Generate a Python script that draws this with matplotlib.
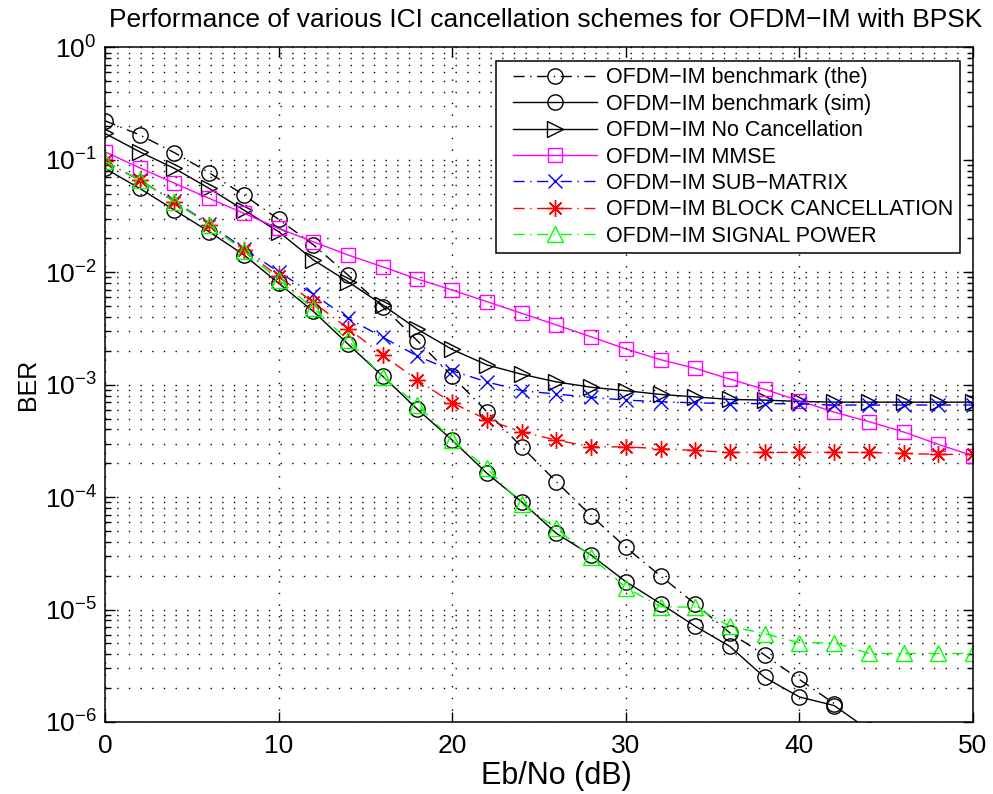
import matplotlib
matplotlib.use("Agg")
import matplotlib.pyplot as plt
from matplotlib.lines import Line2D
from matplotlib.legend_handler import HandlerLine2D
import numpy as np

plt.rcParams['font.family'] = ['Liberation Sans', 'DejaVu Sans']
plt.rcParams['mathtext.fontset'] = 'custom'
plt.rcParams['mathtext.rm'] = 'Liberation Sans'
plt.rcParams['mathtext.it'] = 'Liberation Sans:italic'

# Eb/No axis (dB), one point every 2 dB
ebno = np.arange(0, 51, 2)

# BER curves
the_ber = [0.223, 0.167, 0.116, 0.0769, 0.0487, 0.0296, 0.0176, 0.00946, 0.00494,
           0.00246, 0.00119, 0.000575, 0.000281, 0.000137, 6.84e-5, 3.58e-5,
           1.99e-5, 1.12e-5, 6.2e-6, 3.94e-6, 2.39e-6, 1.46e-6]
sim_ber = [0.084, 0.0558, 0.0358, 0.023, 0.0143, 0.0080, 0.0045, 0.0023, 0.00119,
           0.000604, 0.000322, 0.000163, 9.1e-5, 4.76e-5, 3.05e-5, 1.77e-5,
           1.13e-5, 7.1e-6, 4.7e-6, 2.49e-6, 1.67e-6, 1.40e-6, 8.5e-7]
nocancel_ber = [0.172, 0.118, 0.084, 0.0558, 0.0358, 0.023, 0.0129, 0.00825, 0.00512,
                0.00311, 0.00206, 0.0015, 0.00124, 0.00106, 0.00095, 0.000885,
                0.00082, 0.00078, 0.00074, 0.00073, 0.00071, 0.0007, 0.0007,
                0.0007, 0.0007, 0.0007]
mmse_ber = [0.118, 0.085, 0.062, 0.0455, 0.0335, 0.0246, 0.0187, 0.01425, 0.0112,
            0.0087, 0.00696, 0.00548, 0.00432, 0.0034, 0.00267, 0.00208, 0.00167,
            0.0014, 0.00112, 0.00091, 0.00072, 0.00057, 0.00047, 0.00038,
            0.000295, 0.000233]
submatrix_ber = [0.097, 0.066, 0.043, 0.027, 0.0162, 0.0101, 0.0064, 0.0039, 0.00264,
                 0.0018, 0.00133, 0.00106, 0.000885, 0.000826, 0.000772, 0.00073,
                 0.000706, 0.00069, 0.00068, 0.00068, 0.000675, 0.00066, 0.00066,
                 0.00066, 0.00066, 0.00066]
block_ber = [0.097, 0.066, 0.0425, 0.0265, 0.0157, 0.0092, 0.0054, 0.00316, 0.00184,
             0.0011, 0.00069, 0.00049, 0.00038, 0.000322, 0.00028, 0.00028,
             0.00027, 0.00026, 0.00025, 0.00025, 0.00025, 0.00025, 0.00025,
             0.000245, 0.00024, 0.00024]
sigpower_ber = [0.097, 0.0662, 0.0425, 0.0264, 0.0156, 0.00855, 0.00478, 0.00248,
                0.00118, 0.00066, 0.000322, 0.00018, 8.7e-5, 5.28e-5, 2.95e-5,
                1.57e-5, 1.06e-5, 1.05e-5, 7.1e-6, 6.1e-6, 5.07e-6, 5.07e-6,
                4.07e-6, 4.07e-6, 4.07e-6, 4.07e-6]

labels = ['OFDM\u2212IM benchmark (the)', 'OFDM\u2212IM benchmark (sim)',
          'OFDM\u2212IM No Cancellation', 'OFDM\u2212IM MMSE',
          'OFDM\u2212IM SUB\u2212MATRIX', 'OFDM\u2212IM BLOCK CANCELLATION',
          'OFDM\u2212IM SIGNAL POWER']

dashdot = (0, (8, 4, 1, 4))
asterisk = (8, 2, 0)

fig = plt.figure(figsize=(9.93, 7.94), dpi=100)
ax = fig.add_axes([0.1057, 0.0907, 0.8742, 0.8495])

ax.semilogy(ebno[:len(the_ber)], the_ber, color='k', linestyle=dashdot, lw=1,
            marker='o', ms=11, mfc='none', mew=1, label=labels[0])
ax.semilogy(ebno[:len(sim_ber)], sim_ber, color='k', linestyle='-', lw=1,
            marker='o', ms=11, mfc='none', mew=1, label=labels[1])
ax.semilogy(ebno, nocancel_ber, color='k', linestyle='-', lw=1,
            marker='>', ms=11.5, mfc='none', mew=1, label=labels[2])
ax.semilogy(ebno, mmse_ber, color='#ff00ff', linestyle='-', lw=1,
            marker='s', ms=9.5, mfc='none', mew=1, label=labels[3])
ax.semilogy(ebno, submatrix_ber, color='#0000ff', linestyle=dashdot, lw=1,
            marker='x', ms=10, mew=1, label=labels[4])
ax.semilogy(ebno, block_ber, color='#ff0000', linestyle=dashdot, lw=1,
            marker=asterisk, ms=12, mew=1, label=labels[5])
ax.semilogy(ebno, sigpower_ber, color='#00ff00', linestyle=dashdot, lw=1,
            marker='^', ms=11.5, mfc='none', mew=1, label=labels[6])

ax.set_xlim(0, 50)
ax.set_ylim(1e-6, 1)
ax.set_xticks([0, 10, 20, 30, 40, 50])

# dotted grid on major and minor decades
ax.grid(True, which='major', color='k', linestyle=(0, (1, 7.4)), lw=1)
ax.grid(True, which='minor', axis='y', color='k', linestyle=(0, (1, 7.4)), lw=1)

ax.tick_params(which='both', direction='in', top=True, right=True, labelsize=19)
ax.tick_params(which='major', length=7, width=1)
ax.tick_params(which='minor', length=4, width=1)
ax.tick_params(axis='y', which='major', pad=6)
ax.tick_params(axis='x', which='major', pad=9)
for sp in ax.spines.values():
    sp.set_linewidth(1.1)

ax.set_xlabel('Eb/No (dB)', fontsize=22)
ax.xaxis.set_label_coords(0.52, -0.058)
ax.set_ylabel('BER', fontsize=18, labelpad=3)
ax.set_title('Performance of various ICI cancellation schemes for OFDM\u2212IM with BPSK',
             fontsize=19, pad=15, x=0.508)

leg = ax.legend(loc='upper right', bbox_to_anchor=(0.985, 0.980), fontsize=15.5,
                handlelength=4.4, handletextpad=0.42, labelspacing=0.25,
                borderpad=0.3, borderaxespad=0, fancybox=False, framealpha=1,
                edgecolor='k',
                handler_map={Line2D: HandlerLine2D(xpad=0.5)})
leg.get_frame().set_linewidth(1.1)

fig.savefig('out.png', dpi=100)
